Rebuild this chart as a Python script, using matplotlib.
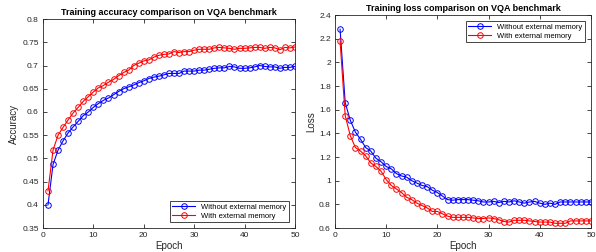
import numpy as np
import matplotlib.pyplot as plt
from matplotlib.ticker import FuncFormatter

plt.rcParams['font.family'] = ['Liberation Sans', 'DejaVu Sans']

epochs = np.arange(1, 51)

acc_without = [0.400, 0.487, 0.518, 0.538, 0.555, 0.568, 0.580, 0.592, 0.600, 0.610,
               0.618, 0.625, 0.630, 0.637, 0.644, 0.650, 0.654, 0.658, 0.663, 0.667,
               0.672, 0.675, 0.677, 0.680, 0.683, 0.683, 0.683, 0.688, 0.688, 0.688,
               0.690, 0.690, 0.692, 0.694, 0.695, 0.695, 0.698, 0.697, 0.694, 0.694,
               0.695, 0.697, 0.700, 0.698, 0.697, 0.697, 0.694, 0.696, 0.696, 0.698]
acc_with = [0.430, 0.518, 0.550, 0.567, 0.583, 0.598, 0.610, 0.623, 0.633, 0.643,
            0.652, 0.657, 0.664, 0.670, 0.678, 0.685, 0.690, 0.700, 0.705, 0.710,
            0.712, 0.718, 0.722, 0.724, 0.725, 0.730, 0.728, 0.730, 0.730, 0.733,
            0.735, 0.735, 0.735, 0.738, 0.739, 0.738, 0.737, 0.735, 0.737, 0.737,
            0.738, 0.739, 0.739, 0.737, 0.739, 0.738, 0.734, 0.739, 0.738, 0.740]

loss_without = [2.28, 1.66, 1.51, 1.41, 1.35, 1.28, 1.25, 1.19, 1.16, 1.12,
                1.10, 1.06, 1.04, 1.03, 1.00, 0.98, 0.96, 0.95, 0.92, 0.90,
                0.87, 0.84, 0.835, 0.84, 0.84, 0.84, 0.835, 0.83, 0.82, 0.82,
                0.825, 0.815, 0.825, 0.82, 0.83, 0.82, 0.81, 0.82, 0.825, 0.81,
                0.80, 0.81, 0.80, 0.82, 0.82, 0.82, 0.82, 0.82, 0.82, 0.82]
loss_with = [2.18, 1.55, 1.38, 1.28, 1.25, 1.21, 1.15, 1.12, 1.08, 1.01,
             0.96, 0.93, 0.90, 0.86, 0.84, 0.81, 0.79, 0.77, 0.74, 0.74,
             0.72, 0.70, 0.69, 0.69, 0.69, 0.69, 0.685, 0.68, 0.68, 0.685,
             0.68, 0.67, 0.655, 0.65, 0.665, 0.665, 0.665, 0.66, 0.655, 0.65,
             0.65, 0.65, 0.64, 0.64, 0.64, 0.66, 0.66, 0.66, 0.66, 0.66]

labels = ['Without external memory', 'With external memory']


def trim(v, pos):
    return ('%.2f' % v).rstrip('0').rstrip('.')


def style(ax):
    ax.tick_params(direction='in', top=True, right=True, labelsize=6, length=3,
                   width=0.6, pad=3, colors='#262626')
    for s in ax.spines.values():
        s.set_linewidth(0.6)
        s.set_color('#262626')
    ax.yaxis.set_major_formatter(FuncFormatter(trim))


fig = plt.figure(figsize=(5.96, 2.52), dpi=100)
ax1 = fig.add_axes([0.0721, 0.0952, 0.4228, 0.829])
ax2 = fig.add_axes([0.562, 0.0952, 0.4295, 0.845])

kw = dict(marker='o', markersize=4, markerfacecolor='none', linewidth=0.8, markeredgewidth=0.7)

ax1.plot(epochs, acc_without, color='#0000ff', label=labels[0], **kw)
ax1.plot(epochs, acc_with, color='#ff0000', label=labels[1], **kw)
ax1.set_xlim(0, 50)
ax1.set_ylim(0.35, 0.8)
ax1.set_xticks(np.arange(0, 51, 10))
ax1.set_yticks(np.arange(0.35, 0.801, 0.05))
ax1.set_title('Training accuracy comparison on VQA benchmark', fontsize=6.5,
              fontweight='bold', pad=3)
ax1.set_xlabel('Epoch', fontsize=7, labelpad=1, color='#262626')
ax1.set_ylabel('Accuracy', fontsize=7, labelpad=2, color='#262626')
style(ax1)
leg1 = ax1.legend(loc='lower right', fontsize=5.5, fancybox=False, edgecolor='#262626',
                  framealpha=1, borderpad=0.3, handlelength=3, labelspacing=0.2,
                  borderaxespad=0.8)
leg1.get_frame().set_linewidth(0.6)

ax2.plot(epochs, loss_without, color='#0000ff', label=labels[0], **kw)
ax2.plot(epochs, loss_with, color='#ff0000', label=labels[1], **kw)
ax2.set_xlim(0, 50)
ax2.set_ylim(0.6, 2.4)
ax2.set_xticks(np.arange(0, 51, 10))
ax2.set_yticks(np.arange(0.6, 2.41, 0.2))
ax2.set_title('Training loss comparison on VQA benchmark', fontsize=6.5,
              fontweight='bold', pad=3)
ax2.set_xlabel('Epoch', fontsize=7, labelpad=1, color='#262626')
ax2.set_ylabel('Loss', fontsize=7, labelpad=2, color='#262626')
style(ax2)
leg2 = ax2.legend(loc='upper right', fontsize=5.5, fancybox=False, edgecolor='#262626',
                  framealpha=1, borderpad=0.3, handlelength=3, labelspacing=0.2,
                  borderaxespad=0.8)
leg2.get_frame().set_linewidth(0.6)

fig.savefig('out.png', dpi=100)
